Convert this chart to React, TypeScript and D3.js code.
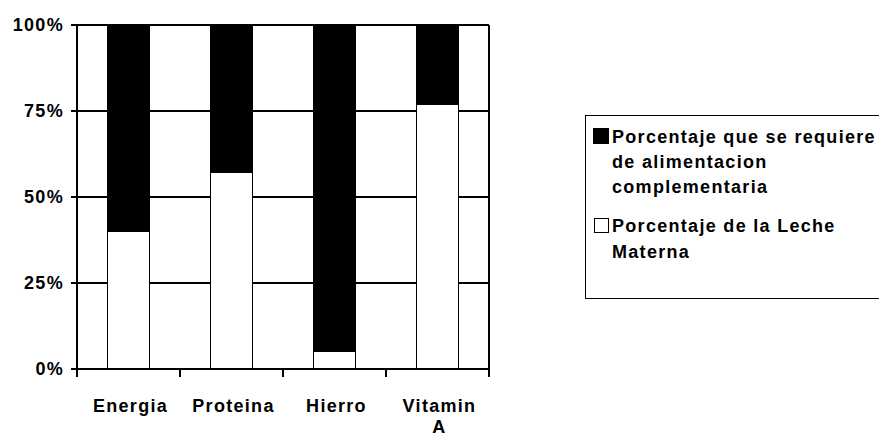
import React from 'react';
import * as d3 from 'd3';

// Chart values
const categories = ['Energia', 'Proteina', 'Hierro', 'Vitamin A'];
const lecheMaterna = [40, 57, 5, 77];
const complementaria = [60, 43, 95, 23];
const yTicks = [0, 25, 50, 75, 100];

const W = 879;
const H = 437;
const margin = { top: 25, right: 390, bottom: 68, left: 77 };
const FONT = '"Liberation Sans", Arial, sans-serif';
const FS = 18;
const LS = 1.3;

const App = () => {
  const rows = categories.map((c, i) => ({
    cat: c,
    leche: lecheMaterna[i],
    comp: complementaria[i],
  }));

  const x = d3.scaleBand<string>()
    .domain(categories)
    .range([margin.left, W - margin.right])
    .paddingInner(0.59)
    .paddingOuter(0.295);

  const y = d3.scaleLinear()
    .domain([0, 100])
    .range([H - margin.bottom, margin.top]);

  const stack = d3.stack<any>().keys(['leche', 'comp']);
  const layers = stack(rows);
  const fills: Record<string, string> = { leche: '#ffffff', comp: '#000000' };

  const gap = (x.step() - x.bandwidth()) / 2;
  const boundaries = categories.map(c => (x(c) as number) - gap);
  boundaries.push(W - margin.right);

  const x0 = margin.left;
  const x1 = W - margin.right;
  const yb = y(0);
  const yt = y(100);

  return (
    <svg width={W} height={H} style={{ position: 'absolute', left: 0, top: 0, background: '#fff' }}>
      <g shapeRendering="crispEdges">
        {/* gridlines */}
        {yTicks.filter(t => t > 0 && t < 100).map(t => (
          <line key={'g' + t} x1={x0} x2={x1} y1={y(t)} y2={y(t)} stroke="#000" strokeWidth={1.5} />
        ))}

        {/* stacked bars */}
        {layers.map(layer => (
          <g key={layer.key}>
            {layer.map((d, i) => (
              <rect
                key={i}
                x={x(categories[i])}
                width={x.bandwidth()}
                y={y(d[1])}
                height={y(d[0]) - y(d[1])}
                fill={fills[layer.key]}
                stroke="#000"
                strokeWidth={1}
              />
            ))}
          </g>
        ))}

        {/* frame */}
        <line x1={x0} x2={x1} y1={yt} y2={yt} stroke="#000" strokeWidth={1.5} />
        <line x1={x1} x2={x1} y1={yt} y2={yb} stroke="#000" strokeWidth={1.5} />
        <line x1={x0} x2={x0} y1={yt} y2={yb + 8} stroke="#000" strokeWidth={2} />
        <line x1={x0} x2={x1} y1={yb} y2={yb} stroke="#000" strokeWidth={2} />

        {/* y ticks */}
        {yTicks.map(t => (
          <line key={'yt' + t} x1={x0 - 6} x2={x0} y1={y(t)} y2={y(t)} stroke="#000" strokeWidth={1.5} />
        ))}

        {/* x axis ticks */}
        {boundaries.map((b, i) => (
          <line key={'xt' + i} x1={b} x2={b} y1={yb} y2={yb + 8} stroke="#000" strokeWidth={1.5} />
        ))}
      </g>

      <g fontFamily={FONT} fontWeight="bold" fontSize={FS} letterSpacing={LS}>
        {/* y labels */}
        {yTicks.map(t => (
          <text key={'y' + t} x={x0 - 13} y={y(t)} dy="0.35em" textAnchor="end">{t + '%'}</text>
        ))}

        {/* x labels */}
        {categories.map(c => {
          const cx = (x(c) as number) + x.bandwidth() / 2 + 2;
          const parts = c === 'Vitamin A' ? ['Vitamin', 'A'] : [c];
          return (
            <text key={'xl' + c} x={cx} y={yb + 43} textAnchor="middle">
              {parts.map((p, j) => (
                <tspan key={j} x={cx} dy={j === 0 ? 0 : 21}>{p}</tspan>
              ))}
            </text>
          );
        })}

        {/* legend */}
        <rect x={585.5} y={115.5} width={310} height={183} fill="#fff" stroke="#000" strokeWidth={1} shapeRendering="crispEdges" />
        <rect x={593} y={128} width={16} height={16} fill="#000" />
        <text x={612} y={143}>
          <tspan x={612}>Porcentaje que se requiere</tspan>
          <tspan x={612} dy={25}>de alimentacion</tspan>
          <tspan x={612} dy={25}>complementaria</tspan>
        </text>
        <rect x={594.5} y={218.5} width={14} height={14} fill="#fff" stroke="#000" strokeWidth={1} />
        <text x={612} y={232}>
          <tspan x={612}>Porcentaje de la Leche</tspan>
          <tspan x={612} dy={26}>Materna</tspan>
        </text>
      </g>
    </svg>
  );
};

export default App;
